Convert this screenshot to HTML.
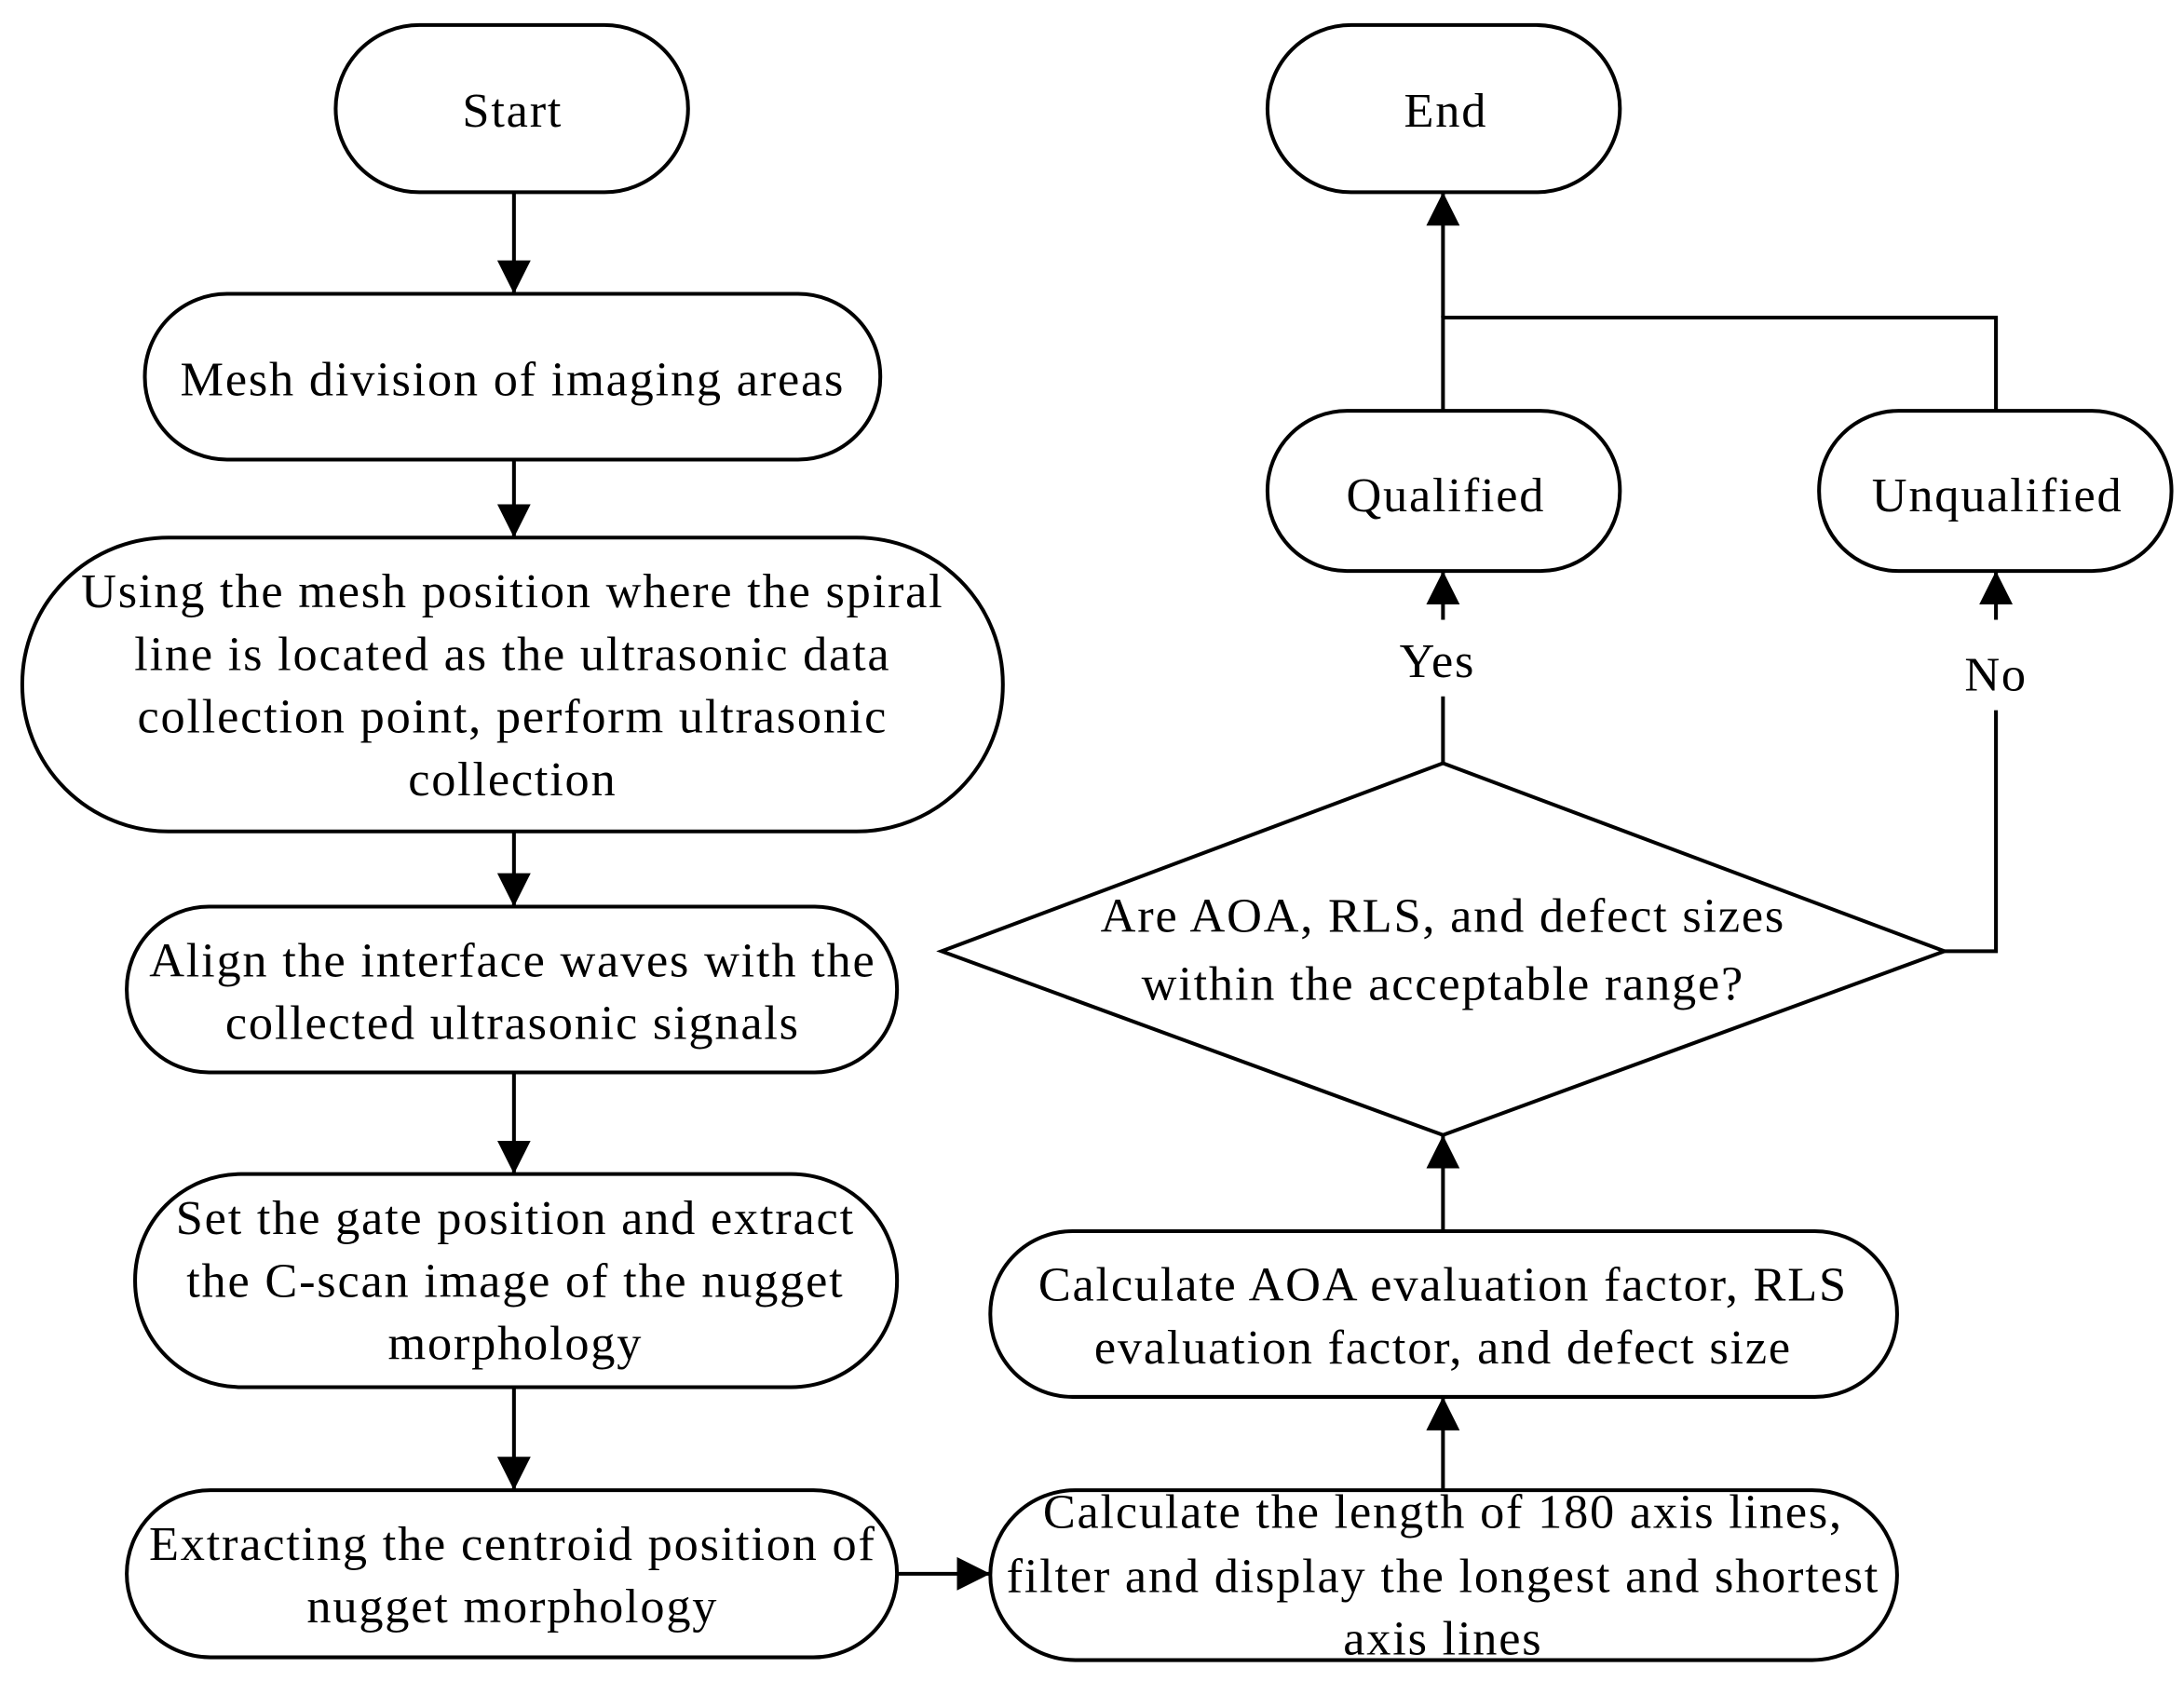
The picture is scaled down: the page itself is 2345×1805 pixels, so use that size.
<!DOCTYPE html>
<html><head><meta charset="utf-8"><style>
html,body{margin:0;padding:0;background:#fff;}
svg{display:block;}
text{font-family:"Liberation Serif",serif;font-size:35px;letter-spacing:1.2px;fill:#000;text-anchor:middle;}
.b{fill:#fff;stroke:#000;stroke-width:2.7;}
.l{stroke:#000;stroke-width:2.7;fill:none;}
</style></head><body>
<svg width="2345" height="1805" viewBox="0 0 1568 1207" preserveAspectRatio="none">
<defs>
<marker id="ah" markerWidth="26" markerHeight="26" refX="24" refY="12" orient="auto" markerUnits="userSpaceOnUse"><path d="M0,0L24,12L0,24z" fill="#000"/></marker></defs>

<rect class="b" x="241" y="18" width="253" height="120" rx="60"/>
<text x="368" y="91">Start</text>
<rect class="b" x="104" y="211" width="528" height="119" rx="59"/>
<text x="368" y="284">Mesh division of imaging areas</text>
<rect class="b" x="16" y="386" width="704" height="211" rx="105"/>
<text x="368" y="436">Using the mesh position where the spiral</text>
<text x="368" y="481">line is located as the ultrasonic data</text>
<text x="368" y="526">collection point, perform ultrasonic</text>
<text x="368" y="571">collection</text>
<rect class="b" x="91" y="651" width="553" height="119" rx="59"/>
<text x="368" y="701">Align the interface waves with the</text>
<text x="368" y="746">collected ultrasonic signals</text>
<rect class="b" x="97" y="843" width="547" height="153" rx="76"/>
<text x="370" y="886">Set the gate position and extract</text>
<text x="370" y="931">the C-scan image of the nugget</text>
<text x="370" y="976">morphology</text>
<rect class="b" x="91" y="1070" width="553" height="120" rx="60"/>
<text x="368" y="1120">Extracting the centroid position of</text>
<text x="368" y="1165">nugget  morphology</text>
<rect class="b" x="711" y="1070" width="651" height="122" rx="61"/>
<text x="1036" y="1097">Calculate the length of 180 axis lines,</text>
<text x="1036" y="1143">filter and display the longest and shortest</text>
<text x="1036" y="1188">axis lines</text>
<rect class="b" x="711" y="884" width="651" height="119" rx="59"/>
<text x="1036" y="934">Calculate AOA evaluation factor, RLS</text>
<text x="1036" y="979">evaluation factor, and defect size</text>
<polygon class="b" points="676,683 1036,548 1396,683 1036,815"/>
<text x="1036" y="669">Are AOA, RLS, and defect sizes</text>
<text x="1036" y="718">within the acceptable range?</text>
<rect class="b" x="910" y="295" width="253" height="115" rx="57"/>
<text x="1038" y="367">Qualified</text>
<rect class="b" x="1306" y="295" width="253" height="115" rx="57"/>
<text x="1434" y="367">Unqualified</text>
<rect class="b" x="910" y="18" width="253" height="120" rx="60"/>
<text x="1038" y="91">End</text>

<line class="l" x1="369" y1="138" x2="369" y2="211" marker-end="url(#ah)"/>
<line class="l" x1="369" y1="330" x2="369" y2="386" marker-end="url(#ah)"/>
<line class="l" x1="369" y1="597" x2="369" y2="651" marker-end="url(#ah)"/>
<line class="l" x1="369" y1="770" x2="369" y2="843" marker-end="url(#ah)"/>
<line class="l" x1="369" y1="996" x2="369" y2="1070" marker-end="url(#ah)"/>
<line class="l" x1="644" y1="1130" x2="711" y2="1130" marker-end="url(#ah)"/>
<line class="l" x1="1036" y1="1070" x2="1036" y2="1003" marker-end="url(#ah)"/>
<line class="l" x1="1036" y1="884" x2="1036" y2="815" marker-end="url(#ah)"/>
<line class="l" x1="1036" y1="548" x2="1036" y2="500"/>
<text x="1032" y="486">Yes</text>
<line class="l" x1="1036" y1="445" x2="1036" y2="410" marker-end="url(#ah)"/>
<polyline class="l" points="1396,683 1433,683 1433,510"/>
<text x="1433" y="496">No</text>
<line class="l" x1="1433" y1="445" x2="1433" y2="410" marker-end="url(#ah)"/>
<polyline class="l" points="1036,295 1036,228 1433,228 1433,295"/>
<line class="l" x1="1036" y1="228" x2="1036" y2="138" marker-end="url(#ah)"/>
</svg>
</body></html>
